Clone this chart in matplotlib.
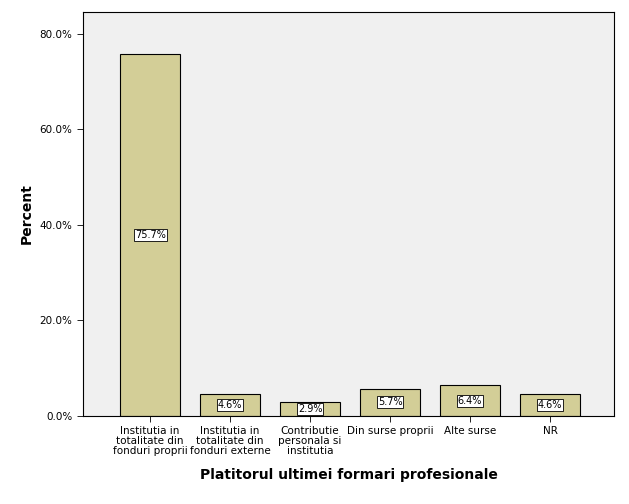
import matplotlib
matplotlib.use("Agg")
import matplotlib.pyplot as plt

categories = ["Institutia in\ntotalitate din\nfonduri proprii", "Institutia in\ntotalitate din\nfonduri externe",
              "Contributie\npersonala si\ninstitutia", "Din surse proprii", "Alte surse", "NR"]
values = [75.7, 4.6, 2.9, 5.7, 6.4, 4.6]
yticks = [0, 20, 40, 60, 80]

fig = plt.figure(figsize=(6.29, 5.04), dpi=100)
ax = fig.add_axes([0.132, 0.1746, 0.844, 0.8016])
ax.set_facecolor("#F0F0F0")
x = list(range(len(values)))
ax.bar(x, values, width=0.75, color="#D3CE97", edgecolor="black", linewidth=0.8)
for xi, v in zip(x, values):
    ax.text(xi, v / 2, f"{v:.1f}%", ha="center", va="center", fontsize=7,
            bbox=dict(boxstyle="square,pad=0.1", facecolor="white", edgecolor="black", linewidth=0.6))
ax.set_xlim(-0.84, 5.8)
ax.set_ylim(0, 84.6)
ax.set_yticks(yticks)
ax.set_yticklabels([f"{t:.1f}%" for t in yticks], fontsize=7.5)
ax.set_xticks(x)
ax.set_xticklabels(categories, fontsize=7.5, linespacing=1.0)
ax.tick_params(length=4, width=0.6)
ax.set_ylabel("Percent", fontsize=10, fontweight="bold")
ax.set_xlabel("Platitorul ultimei formari profesionale", fontsize=10, fontweight="bold", labelpad=8)
for s in ax.spines.values():
    s.set_linewidth(0.8)
fig.savefig("out.png", dpi=100, facecolor="white")
